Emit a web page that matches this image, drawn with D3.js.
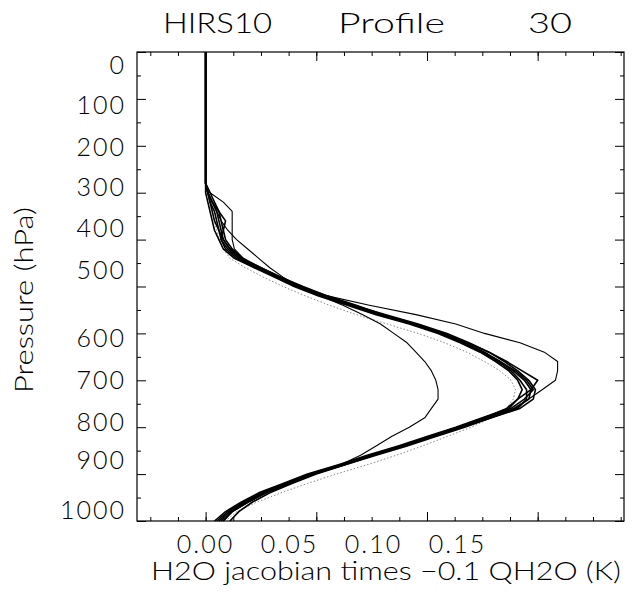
<!DOCTYPE html>
<html>
<head>
<meta charset="utf-8">
<script src="https://cdn.jsdelivr.net/npm/d3@7"></script>
<style>
  body { margin: 0; background: #fff; }
  svg { display: block; }
  text { font-family: Lato, "Liberation Sans", sans-serif; font-weight: 300; fill: #000; }
</style>
</head>
<body>
<svg id="chart"></svg>
<script>
// Pressure levels (hPa) shared by every profile
const pressure = [0, 100, 200, 280, 300, 320, 340, 360, 380, 400, 420, 440, 460, 480, 500, 520, 540, 560, 580, 600,
                  620, 640, 660, 680, 700, 720, 740, 760, 780, 800, 820, 840, 860, 880, 900, 920, 940, 960, 980, 1000];

// Jacobian profiles (one value per pressure level)
const profile1 = [0, 0, 0, 0, 0.001, 0.002, 0.004, 0.005, 0.006, 0.007, 0.010, 0.015, 0.024, 0.033, 0.042, 0.053, 0.066, 0.079, 0.094, 0.107,
                  0.117, 0.126, 0.133, 0.139, 0.144, 0.147, 0.146, 0.140, 0.127, 0.115, 0.102, 0.088, 0.074, 0.062, 0.048, 0.037, 0.026, 0.018, 0.011, 0.006];
const profile2 = [0, 0, 0, 0, 0.002, 0.004, 0.006, 0.007, 0.008, 0.009, 0.012, 0.017, 0.025, 0.034, 0.043, 0.054, 0.067, 0.081, 0.096, 0.109,
                  0.119, 0.128, 0.135, 0.141, 0.146, 0.149, 0.148, 0.142, 0.129, 0.116, 0.103, 0.090, 0.076, 0.063, 0.050, 0.039, 0.029, 0.021, 0.015, 0.011];
const profile3 = [0, 0, 0, 0, 0, 0.001, 0.002, 0.003, 0.004, 0.006, 0.008, 0.013, 0.022, 0.031, 0.040, 0.051, 0.064, 0.077, 0.092, 0.105,
                  0.115, 0.124, 0.131, 0.137, 0.141, 0.143, 0.141, 0.137, 0.125, 0.113, 0.100, 0.087, 0.073, 0.060, 0.046, 0.035, 0.024, 0.016, 0.009, 0.004];
const profile4 = [0, 0, 0, 0, 0.001, 0.003, 0.005, 0.006, 0.007, 0.008, 0.011, 0.016, 0.024, 0.033, 0.043, 0.054, 0.067, 0.080, 0.095, 0.108,
                  0.118, 0.128, 0.136, 0.143, 0.150, 0.147, 0.141, 0.136, 0.126, 0.114, 0.101, 0.089, 0.075, 0.061, 0.047, 0.036, 0.025, 0.017, 0.010, 0.005];
const profile5 = [0, 0, 0, 0, 0.001, 0.003, 0.006, 0.009, 0.008, 0.007, 0.009, 0.014, 0.023, 0.032, 0.041, 0.052, 0.065, 0.078, 0.093, 0.106,
                  0.116, 0.125, 0.133, 0.140, 0.145, 0.148, 0.144, 0.138, 0.126, 0.114, 0.101, 0.089, 0.075, 0.062, 0.048, 0.037, 0.027, 0.019, 0.012, 0.008];
const profile6 = [0, 0, 0, 0, 0.001, 0.002, 0.003, 0.004, 0.006, 0.008, 0.011, 0.016, 0.025, 0.034, 0.044, 0.055, 0.068, 0.080, 0.094, 0.106,
                  0.116, 0.125, 0.132, 0.138, 0.142, 0.145, 0.145, 0.141, 0.129, 0.117, 0.104, 0.091, 0.077, 0.063, 0.049, 0.038, 0.027, 0.019, 0.012, 0.007];
// the odd ones out
const profileLow = [0, 0, 0, 0, 0.001, 0.003, 0.005, 0.007, 0.010, 0.014, 0.019, 0.024, 0.029, 0.035, 0.042, 0.052, 0.062, 0.071, 0.079, 0.085,
                    0.091, 0.095, 0.099, 0.102, 0.104, 0.105, 0.105, 0.102, 0.099, 0.092, 0.084, 0.077, 0.070, 0.061, 0.049, 0.038, 0.028, 0.019, 0.012, 0.008];
const profileHigh = [0, 0, 0, 0, 0.002, 0.008, 0.012, 0.012, 0.012, 0.012, 0.013, 0.017, 0.024, 0.033, 0.043, 0.055, 0.074, 0.095, 0.113, 0.126,
                     0.142, 0.153, 0.159, 0.159, 0.158, 0.152, 0.146, 0.139, 0.127, 0.115, 0.102, 0.089, 0.075, 0.062, 0.048, 0.037, 0.026, 0.018, 0.011, 0.006];
const profileDotted = [0, 0, 0, 0, 0.001, 0.002, 0.003, 0.004, 0.005, 0.006, 0.008, 0.011, 0.018, 0.026, 0.035, 0.045, 0.056, 0.068, 0.082, 0.096,
                       0.108, 0.118, 0.126, 0.133, 0.138, 0.140, 0.139, 0.136, 0.129, 0.120, 0.109, 0.098, 0.086, 0.073, 0.059, 0.046, 0.034, 0.023, 0.014, 0.009];

// Tick labels
const xTickValues = [0, 0.05, 0.10, 0.15];
const yTickValues = [0, 100, 200, 300, 400, 500, 600, 700, 800, 900, 1000];

const width = 637, height = 607;
const box = { left: 137, right: 624, top: 52, bottom: 521 };
const font = 'Lato, "Liberation Sans", sans-serif';

const svg = d3.select('#chart')
    .attr('width', width)
    .attr('height', height);

// Scales for the data and tick marks
const xScale = d3.scaleLinear().domain([-0.031, 0.189]).range([box.left, box.right]);
const yScale = d3.scaleLinear().domain([0, 1000]).range([box.top, box.bottom]);

// In the printed figure the tick labels do not sit on their tick marks, so they get their own scales
const xLabelScale = d3.scaleLinear().domain([0, 0.15]).range([205, 457]);
const yLabelScale = d3.scaleLinear().domain(yTickValues)
    .range([65, 105, 147, 187, 228, 270, 338, 380, 422, 460, 510]);

// Frame
svg.append('rect')
    .attr('x', box.left).attr('y', box.top)
    .attr('width', box.right - box.left).attr('height', box.bottom - box.top)
    .attr('fill', 'none').attr('stroke', '#000').attr('stroke-width', 1.2);

// Inward tick marks on all four sides
const xMinor = d3.range(-0.025, 0.189, 0.0125);
const yMinor = d3.range(50, 1000, 100);

function ticks(axisFn, scale, values, size, tx, ty) {
    svg.append('g')
        .attr('transform', `translate(${tx},${ty})`)
        .call(axisFn(scale).tickValues(values).tickSize(size).tickFormat(''))
        .call(g => g.select('.domain').remove())
        .selectAll('line').attr('stroke', '#000');
}
ticks(d3.axisBottom, xScale, xTickValues, -9, 0, box.bottom);
ticks(d3.axisBottom, xScale, xMinor, -4, 0, box.bottom);
ticks(d3.axisTop, xScale, xTickValues, -9, 0, box.top);
ticks(d3.axisTop, xScale, xMinor, -4, 0, box.top);
ticks(d3.axisLeft, yScale, yTickValues, -9, box.left, 0);
ticks(d3.axisLeft, yScale, yMinor, -4, box.left, 0);
ticks(d3.axisRight, yScale, yTickValues, -9, box.right, 0);
ticks(d3.axisRight, yScale, yMinor, -4, box.right, 0);

// Tick labels
svg.append('g')
    .attr('transform', 'translate(0,535)')
    .call(d3.axisBottom(xLabelScale).tickValues(xTickValues).tickSize(0).tickPadding(0).tickFormat(d3.format('.2f')))
    .call(g => g.select('.domain').remove())
    .selectAll('text')
    .attr('font-size', 25).attr('font-family', font).attr('font-weight', 300)
    .style('letter-spacing', '2px');

svg.append('g')
    .attr('transform', 'translate(126,0)')
    .call(d3.axisLeft(yLabelScale).tickValues(yTickValues).tickSize(0).tickPadding(0).tickFormat(d3.format('d')))
    .call(g => g.select('.domain').remove())
    .selectAll('text')
    .attr('font-size', 25).attr('font-family', font).attr('font-weight', 300)
    .style('letter-spacing', '2px');

// Titles
svg.append('text').attr('x', 163).attr('y', 33).attr('font-size', 28)
    .attr('textLength', 109).attr('lengthAdjust', 'spacingAndGlyphs').text('HIRS10');
svg.append('text').attr('x', 338).attr('y', 33).attr('font-size', 28)
    .attr('textLength', 107).attr('lengthAdjust', 'spacingAndGlyphs').text('Profile');
svg.append('text').attr('x', 528).attr('y', 33).attr('font-size', 28)
    .attr('textLength', 44).attr('lengthAdjust', 'spacingAndGlyphs').text('30');

svg.append('text')
    .attr('x', 386).attr('y', 580)
    .attr('font-size', 25).attr('text-anchor', 'middle')
    .attr('textLength', 470).attr('lengthAdjust', 'spacingAndGlyphs')
    .text('H2O jacobian times \u22120.1 QH2O (K)');

svg.append('text')
    .attr('transform', 'translate(33,300) rotate(-90)')
    .attr('font-size', 25).attr('text-anchor', 'middle')
    .attr('textLength', 186).attr('lengthAdjust', 'spacingAndGlyphs')
    .text('Pressure (hPa)');

// Profiles
const line = d3.line()
    .x(d => xScale(d[1]))
    .y(d => yScale(d[0]));

function drawProfile(values, width, color, dash) {
    const path = svg.append('path')
        .datum(pressure.map((p, i) => [p, values[i]]))
        .attr('fill', 'none')
        .attr('stroke', color)
        .attr('stroke-width', width)
        .attr('stroke-linejoin', 'round')
        .attr('d', line);
    if (dash) path.attr('stroke-dasharray', dash);
}

drawProfile(profileDotted, 1, '#888', '1.5,2');
drawProfile(profileLow, 1.1, '#000');
drawProfile(profileHigh, 1.1, '#000');
[profile1, profile2, profile3, profile4, profile5, profile6].forEach(p => drawProfile(p, 1.6, '#000'));
</script>
</body>
</html>
